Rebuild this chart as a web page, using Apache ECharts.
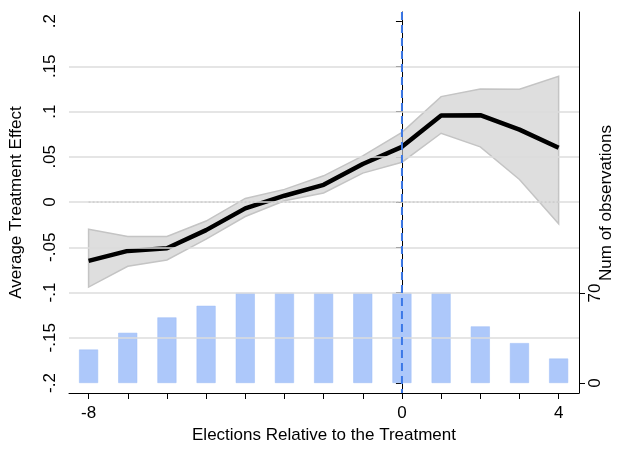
<!DOCTYPE html>
<html>
<head>
<meta charset="utf-8">
<script src="https://cdn.jsdelivr.net/npm/echarts@6/dist/echarts.min.js"></script>
<style>
  body { margin: 0; background: #fff; }
  #chart { width: 623px; height: 450px; }
</style>
</head>
<body>
<div id="chart"></div>
<script>
// elections relative to treatment
var periods = [-8, -7, -6, -5, -4, -3, -2, -1, 0, 1, 2, 3, 4];
var effect = [-0.065, -0.054, -0.051, -0.031, -0.007, 0.007, 0.019, 0.042, 0.061, 0.0956, 0.096, 0.080, 0.060];
var ciLow = [-0.094, -0.071, -0.064, -0.041, -0.016, 0.0015, 0.010, 0.032, 0.044, 0.076, 0.061, 0.025, -0.024];
var ciHigh = [-0.030, -0.038, -0.038, -0.021, 0.004, 0.014, 0.029, 0.051, 0.077, 0.1165, 0.125, 0.1246, 0.139];
var numObs = [26, 39, 51, 60, 70, 70, 70, 70, 70, 70, 44, 31, 19];
var leftTicks = ['.2', '.15', '.1', '.05', '0', '-.05', '-.1', '-.15', '-.2'];
var leftTickValues = [0.2, 0.15, 0.1, 0.05, 0, -0.05, -0.1, -0.15, -0.2];

function pairs(vals) {
    return periods.map(function (p, i) { return [p, vals[i]]; });
}
var bandData = periods.map(function (p, i) { return [p, ciLow[i], ciHigh[i]]; });

// confidence band polygon, built from the axis scales
function renderBand(params, api) {
    if (params.dataIndexInside !== 0) return;
    var top = [], bottom = [];
    for (var i = 0; i < bandData.length; i++) {
        top.push(api.coord([bandData[i][0], bandData[i][2]]));
        bottom.unshift(api.coord([bandData[i][0], bandData[i][1]]));
    }
    return {
        type: 'polygon',
        shape: { points: top.concat(bottom) },
        style: { fill: 'rgba(205,205,205,0.65)', stroke: '#c4c4c4', lineWidth: 1.5 }
    };
}

var font = 'Liberation Sans, Arial, sans-serif';
var chart = echarts.init(document.getElementById('chart'));
chart.setOption({
    animation: false,
    grid: { left: 66, right: 44, top: 12, bottom: 57 },
    xAxis: {
        type: 'value', min: -8.5, max: 4.52,
        name: 'Elections Relative to the Treatment', nameLocation: 'middle', nameGap: 33,
        nameTextStyle: { fontFamily: font, fontSize: 17, color: '#000' },
        axisLine: { onZero: false, lineStyle: { color: '#000' } },
        axisTick: { customValues: periods, length: 6, lineStyle: { color: '#000' } },
        axisLabel: { customValues: [-8, 0, 4], fontFamily: font, fontSize: 17, color: '#000', margin: 12 },
        splitLine: { show: false }
    },
    yAxis: [{
        type: 'value', min: -0.211, max: 0.21,
        name: 'Average Treatment Effect', nameLocation: 'middle', nameGap: 44,
        nameTextStyle: { fontFamily: font, fontSize: 17, color: '#000' },
        axisLine: { show: true, lineStyle: { color: '#000' } },
        axisTick: { customValues: leftTickValues, length: 6, lineStyle: { color: '#000' } },
        axisLabel: {
            customValues: leftTickValues,
            rotate: 90, fontFamily: font, fontSize: 17, color: '#000', margin: 10,
            formatter: function (v) { return leftTicks[Math.round((0.2 - v) / 0.05)]; }
        },
        splitLine: { show: false }
    }, {
        type: 'value', min: -7.8, max: 288.5, position: 'right',
        axisLine: { show: true, lineStyle: { color: '#000' } },
        axisTick: { customValues: [0, 70], length: 6, lineStyle: { color: '#000' } },
        axisLabel: { customValues: [0, 70], rotate: 90, fontFamily: font, fontSize: 17, color: '#000', margin: 8 },
        splitLine: { show: false }
    }],
    graphic: [{
        type: 'text', x: 606, y: 203, rotation: Math.PI / 2,
        style: { text: 'Num of observations', font: '17px ' + font, fill: '#000', align: 'center', verticalAlign: 'middle' }
    }],
    series: [{
        type: 'line', data: [[-8.5, 0.15], [4.52, 0.15]], silent: true, symbol: 'none', z: 0,
        lineStyle: { width: 0 },
        markLine: {
            symbol: 'none', silent: true, label: { show: false },
            lineStyle: { color: '#dcdcdc', width: 1.5, type: 'solid' },
            data: [{ yAxis: 0.15 }, { yAxis: 0.1 }, { yAxis: 0.05 }, { yAxis: 0 }, { yAxis: -0.05 }, { yAxis: -0.1 }, { yAxis: -0.15 }]
        }
    }, {
        type: 'bar', yAxisIndex: 1, data: pairs(numObs), barWidth: 19,
        itemStyle: { color: '#adc8fa', borderColor: '#9dbcf5', borderWidth: 0.5 },
        z: 1
    }, {
        type: 'custom', data: bandData, renderItem: renderBand, z: 2, silent: true
    }, {
        type: 'line', data: [[-8, 0], [4, 0]], symbol: 'none', z: 3,
        lineStyle: { color: '#777', width: 1, type: [2, 2] }
    }, {
        type: 'line', data: pairs(effect), symbol: 'none', z: 4,
        lineStyle: { color: '#000', width: 4.5 }
    }, {
        type: 'line', data: [[0, 0.21], [0, -0.211]], symbol: 'none', z: 5,
        lineStyle: { color: '#3b78e7', width: 2, type: [8, 5] }
    }]
});
</script>
</body>
</html>
